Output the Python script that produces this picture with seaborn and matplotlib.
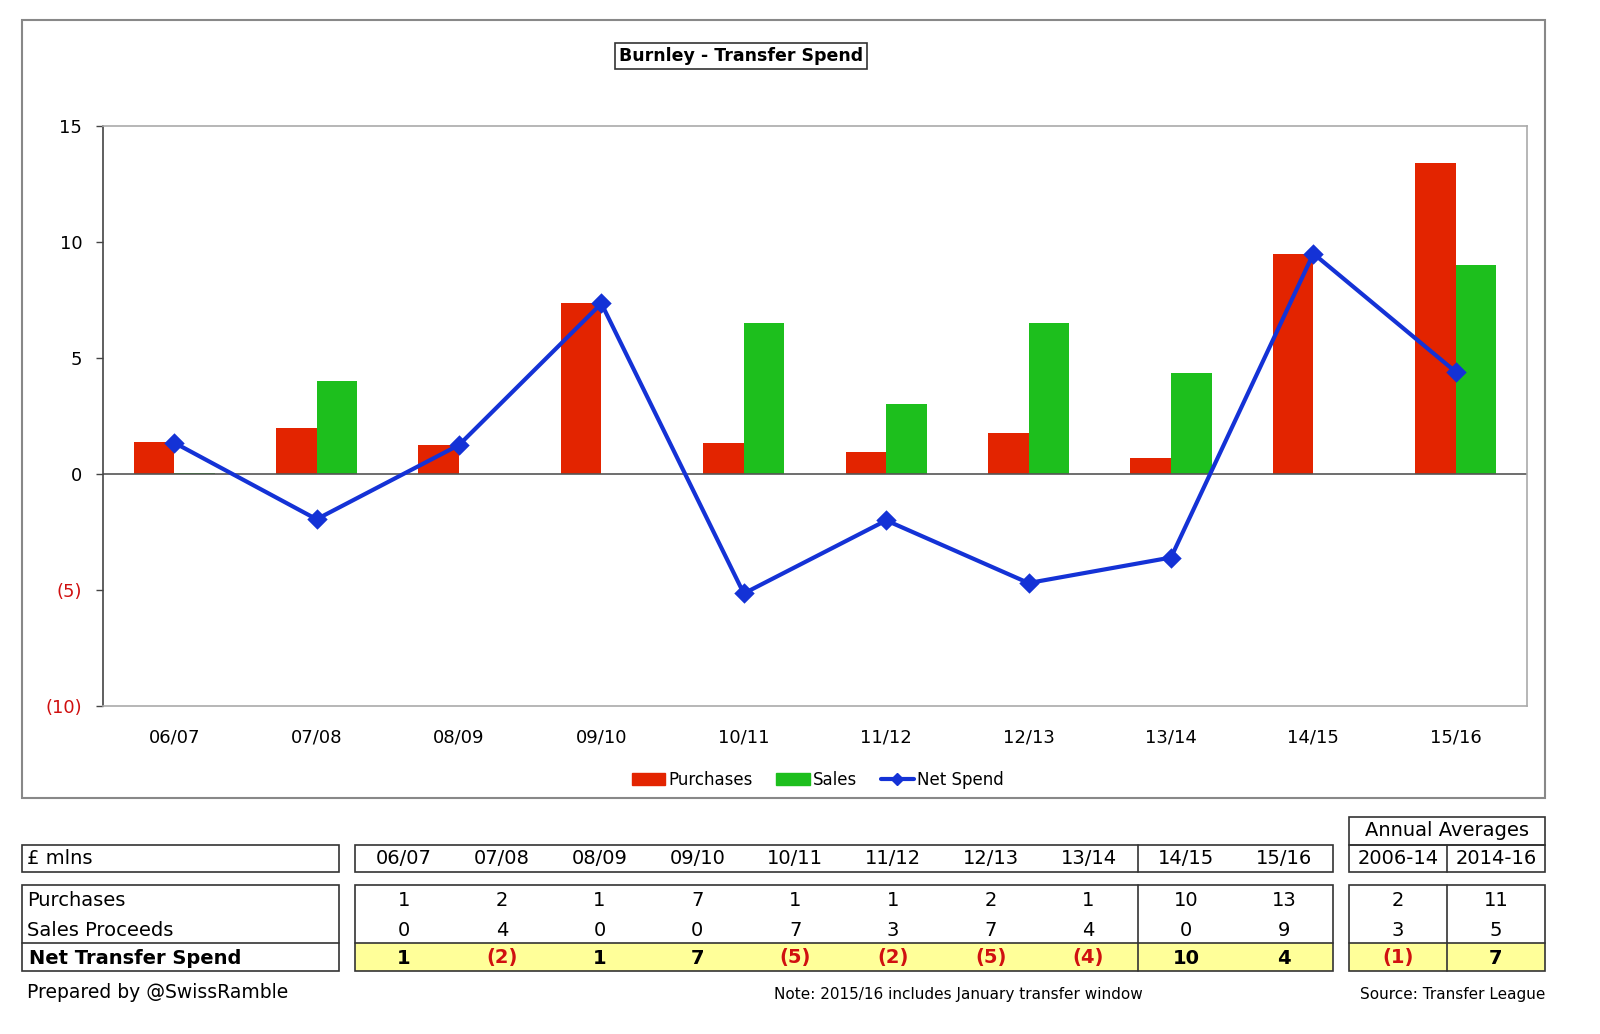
import numpy as np
import pandas as pd
import matplotlib.pyplot as plt
import matplotlib.patches as mpatches
import matplotlib.lines as mlines
import seaborn as sns

sns.set_style("white")
plt.rcParams['font.family'] = ['DejaVu Sans']
plt.rcParams['text.color'] = 'black'
plt.rcParams['xtick.color'] = 'black'
plt.rcParams['ytick.color'] = 'black'

# chart values (£m)
seasons = ["06/07", "07/08", "08/09", "09/10", "10/11",
           "11/12", "12/13", "13/14", "14/15", "15/16"]
purchases = [1.4, 2.0, 1.25, 7.35, 1.35, 0.95, 1.75, 0.7, 9.5, 13.4]
sales = [0.05, 4.0, 0.0, 0.0, 6.5, 3.0, 6.5, 4.35, 0.0, 9.0]
net_spend = [1.35, -1.95, 1.25, 7.35, -5.15, -2.0, -4.7, -3.6, 9.5, 4.4]

# table values (rounded)
tbl_purchases = [1, 2, 1, 7, 1, 1, 2, 1, 10, 13]
tbl_sales = [0, 4, 0, 0, 7, 3, 7, 4, 0, 9]
tbl_net = [1, -2, 1, 7, -5, -2, -5, -4, 10, 4]
avg_periods = ["2006-14", "2014-16"]
avg_purchases = [2, 11]
avg_sales = [3, 5]
avg_net = [-1, 7]

RED = "#E32400"
GREEN = "#1DBF1D"
BLUE = "#1432D6"
NEG_RED = "#D01010"
YELLOW = "#FFFF99"

W, H = 1600, 1034
fig = plt.figure(figsize=(W / 100, H / 100), dpi=100)


def fx(px):
    return px / W


def fy(py):
    return 1 - py / H


def box(x0, y0, x1, y1, fc="none", ec="#333333", lw=1.2):
    fig.add_artist(mpatches.Rectangle((fx(x0), fy(y1)), (x1 - x0) / W, (y1 - y0) / H,
                                      transform=fig.transFigure, facecolor=fc,
                                      edgecolor=ec, lw=lw))


def vline(x, y0, y1, color="#333333", lw=1.2):
    fig.add_artist(mlines.Line2D([fx(x), fx(x)], [fy(y0), fy(y1)],
                                 transform=fig.transFigure, color=color, lw=lw))


def hline(x0, x1, y, color="#333333", lw=1.2):
    fig.add_artist(mlines.Line2D([fx(x0), fx(x1)], [fy(y), fy(y)],
                                 transform=fig.transFigure, color=color, lw=lw))


def fmt(v):
    return f"({abs(v)})" if v < 0 else f"{v}"


# outer frame of the chart
box(22, 20, 1545, 798, ec="#888888", lw=1.5)

ax = fig.add_axes([fx(103), fy(706), (1527 - 103) / W, (706 - 126) / H])

df = pd.DataFrame({
    "Season": seasons * 2,
    "Value": purchases + sales,
    "Type": ["Purchases"] * len(seasons) + ["Sales"] * len(seasons),
})
sns.barplot(data=df, x="Season", y="Value", hue="Type", palette=[RED, GREEN],
            width=0.57, saturation=1, legend=False, linewidth=0, ax=ax)
sns.pointplot(x=seasons, y=net_spend, color=BLUE, markers="D", markersize=8,
              linewidth=3, ax=ax)

ax.axhline(0, color="#555555", lw=1.2, zorder=1)
ax.set_xlim(-0.5, 9.5)
ax.set_ylim(-10, 15)
yt = [-10, -5, 0, 5, 10, 15]
ax.set_yticks(yt)
ax.set_yticklabels([fmt(v) for v in yt], fontsize=13)
for lab, v in zip(ax.get_yticklabels(), yt):
    if v < 0:
        lab.set_color(NEG_RED)
ax.tick_params(axis="y", length=5, width=1, color="#444444", pad=10, left=True)
ax.tick_params(axis="x", length=0, pad=16, labelsize=13)
ax.set_xlabel("")
ax.set_ylabel("")
for s in ["top", "right", "bottom"]:
    ax.spines[s].set_color("#AAAAAA")
    ax.spines[s].set_linewidth(1.2)
ax.spines["left"].set_color("#444444")
ax.spines["left"].set_linewidth(1.2)

# title
fig.text(fx(741), fy(56), "Burnley - Transfer Spend", ha="center", va="center",
         fontsize=12.5, fontweight="bold",
         bbox=dict(boxstyle="square,pad=0.25", facecolor="white", edgecolor="#333333", lw=1.2))

# legend
handles = [mpatches.Patch(color=RED), mpatches.Patch(color=GREEN),
           mlines.Line2D([], [], color=BLUE, lw=3, marker="D", markersize=6)]
fig.legend(handles, ["Purchases", "Sales", "Net Spend"], loc="center",
           bbox_to_anchor=(fx(818), fy(780)), ncol=3, frameon=False, fontsize=12,
           handlelength=2.0, handletextpad=0.2, columnspacing=1.4)

# table
cols = np.linspace(404, 1284, len(seasons))
avg_cols = [1398, 1496]
rows = {"head": 859, "pur": 901, "sal": 930, "net": 958}
tfs = 14

box(22, 845, 339, 872)
fig.text(fx(27), fy(859), "£ mlns", ha="left", va="center", fontsize=tfs)
box(355, 845, 1333, 872)
vline(1138, 845, 872)
for c, s in zip(cols, seasons):
    fig.text(fx(c), fy(rows["head"]), s, ha="center", va="center", fontsize=tfs)

box(1349, 817, 1545, 845)
fig.text(fx(1447), fy(831), "Annual Averages", ha="center", va="center", fontsize=tfs)
box(1349, 845, 1545, 872)
vline(1447, 845, 872)
for c, s in zip(avg_cols, avg_periods):
    fig.text(fx(c), fy(rows["head"]), s, ha="center", va="center", fontsize=tfs)

# label block
box(22, 885, 339, 971)
hline(22, 339, 943)
fig.text(fx(27), fy(rows["pur"]), "Purchases", ha="left", va="center", fontsize=tfs)
fig.text(fx(27), fy(rows["sal"]), "Sales Proceeds", ha="left", va="center", fontsize=tfs)
fig.text(fx(29), fy(rows["net"]), "Net Transfer Spend", ha="left", va="center",
         fontsize=tfs, fontweight="bold")

# main data block
box(355, 943, 1333, 971, fc=YELLOW, ec="none")
box(355, 885, 1333, 971)
hline(355, 1333, 943)
vline(1138, 885, 971)
for c, p, s, n in zip(cols, tbl_purchases, tbl_sales, tbl_net):
    fig.text(fx(c), fy(rows["pur"]), fmt(p), ha="center", va="center", fontsize=tfs)
    fig.text(fx(c), fy(rows["sal"]), fmt(s), ha="center", va="center", fontsize=tfs)
    fig.text(fx(c), fy(rows["net"]), fmt(n), ha="center", va="center", fontsize=tfs,
             fontweight="bold", color=NEG_RED if n < 0 else "black")

# averages block
box(1349, 943, 1545, 971, fc=YELLOW, ec="none")
box(1349, 885, 1545, 971)
hline(1349, 1545, 943)
vline(1447, 885, 971)
for c, p, s, n in zip(avg_cols, avg_purchases, avg_sales, avg_net):
    fig.text(fx(c), fy(rows["pur"]), fmt(p), ha="center", va="center", fontsize=tfs)
    fig.text(fx(c), fy(rows["sal"]), fmt(s), ha="center", va="center", fontsize=tfs)
    fig.text(fx(c), fy(rows["net"]), fmt(n), ha="center", va="center", fontsize=tfs,
             fontweight="bold", color=NEG_RED if n < 0 else "black")

# footer
fig.text(fx(27), fy(993), "Prepared by @SwissRamble", ha="left", va="center", fontsize=13.5)
fig.text(fx(958), fy(994), "Note: 2015/16 includes January transfer window",
         ha="center", va="center", fontsize=11)
fig.text(fx(1545), fy(994), "Source: Transfer League", ha="right", va="center", fontsize=11)

fig.savefig("out.png", dpi=100)
